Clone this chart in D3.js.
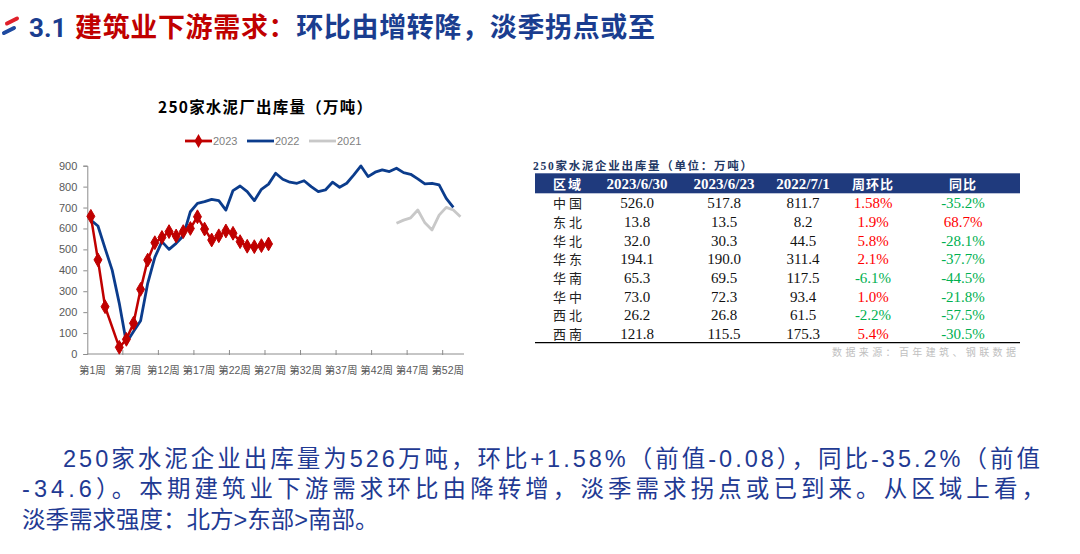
<!DOCTYPE html>
<html><head><meta charset="utf-8">
<script src="https://cdn.jsdelivr.net/npm/d3@7"></script>
<style>
html,body{margin:0;padding:0;background:#fff;}
svg{display:block;}
</style></head>
<body>
<svg id="c" width="1080" height="554"></svg>
<script>
// ---------- data ----------
const weeks = ["第1周","第3周","第4周","第5周","第6周","第7周","第8周","第9周","第10周","第11周",
  "第12周","第13周","第14周","第15周","第16周","第17周","第18周","第19周","第20周","第21周",
  "第22周","第23周","第24周","第25周","第26周","第27周","第28周","第29周","第30周","第31周",
  "第32周","第33周","第34周","第35周","第36周","第37周","第38周","第39周","第40周","第41周",
  "第42周","第43周","第44周","第45周","第46周","第47周","第48周","第49周","第50周","第51周",
  "第52周","第53周","第54周"];
const tickLabels = ["第1周","第7周","第12周","第17周","第22周","第27周","第32周","第37周","第42周","第47周","第52周"];
const s2023 = [658,450,226,null,32,70,147,309,449,532,557,585,564,585,600,656,597,545,565,588,577,537,515,513,518,526];
const s2022 = [640,612,505,401,242,54,107,159,338,462,537,500,529,564,680,720,728,739,733,688,781,803,776,733,787,812,864,835,821,816,828,800,776,784,821,797,816,856,899,848,869,880,872,888,867,859,837,813,816,808,744,701];
const s2021 = [null,null,null,null,null,null,null,null,null,null,null,null,null,null,null,null,null,null,null,null,null,null,null,null,null,null,null,null,null,null,null,null,null,null,null,null,null,null,null,null,null,null,null,625,640,651,688,627,593,664,701,688,656];
const yTicks = [0,100,200,300,400,500,600,700,800,900];
const seriesNames = ["2023","2022","2021"];

const regions = ["中国","东北","华北","华东","华南","华中","西北","西南"];
const colHeaders = ["区域","2023/6/30","2023/6/23","2022/7/1","周环比","同比"];
const v0630 = ["526.0","13.8","32.0","194.1","65.3","73.0","26.2","121.8"];
const v0623 = ["517.8","13.5","30.3","190.0","69.5","72.3","26.8","115.5"];
const v2022 = ["811.7","8.2","44.5","311.4","117.5","93.4","61.5","175.3"];
const wow = ["1.58%","1.9%","5.8%","2.1%","-6.1%","1.0%","-2.2%","5.4%"];
const yoy = ["-35.2%","68.7%","-28.1%","-37.7%","-44.5%","-21.8%","-57.5%","-30.5%"];

const paragraph = [
  "250家水泥企业出库量为526万吨，环比+1.58%（前值-0.08），同比-35.2%（前值",
  "-34.6）。本期建筑业下游需求环比由降转增，淡季需求拐点或已到来。从区域上看，",
  "淡季需求强度：北方>东部>南部。"
];

// ---------- colours / fonts ----------
const RED = "#C00000", BLUE = "#0B3C8C", GRAY = "#C8C8C8", NAVY = "#1F3A93";
const CJK = "'Noto Sans CJK SC','Noto Sans',sans-serif";
const SANS = "'Liberation Sans',Arial,'Noto Sans CJK SC',sans-serif";
const SERIF = "'Liberation Serif','Times New Roman','Noto Sans CJK SC',serif";

const svg = d3.select("#c").style("font-family", CJK);

// ---------- header ----------
svg.append("line").attr("x1",7).attr("y1",23.5).attr("x2",17).attr("y2",18.5)
  .attr("stroke","#E0202A").attr("stroke-width",4).attr("stroke-linecap","round");
svg.append("line").attr("x1",4).attr("y1",33).attr("x2",14).attr("y2",28)
  .attr("stroke","#1E4AA0").attr("stroke-width",4).attr("stroke-linecap","round");
svg.append("text").attr("x",29).attr("y",37).attr("font-size",26).attr("font-weight",700)
  .attr("fill","#1A3D8F").style("font-family","Roboto,'Noto Sans',sans-serif").text("3.1");
const ht = svg.append("text").attr("x",75).attr("y",37).attr("font-size",27).attr("font-weight",700)
  .attr("textLength",580).attr("lengthAdjust","spacing");
ht.append("tspan").attr("fill","#C00000").text("建筑业下游需求：");
ht.append("tspan").attr("fill","#1A3D8F").text("环比由增转降，淡季拐点或至");

// ---------- chart ----------
svg.append("text").attr("x",265).attr("y",113).attr("text-anchor","middle")
  .attr("font-size",15.5).attr("font-weight",700).attr("fill","#000")
  .attr("textLength",214).attr("lengthAdjust","spacing")
  .text("250家水泥厂出库量（万吨）");

const x = d3.scaleBand().domain(weeks).range([87.3,464]).paddingInner(0).paddingOuter(0);
const y = d3.scaleLinear().domain([0,900]).range([354,165.7]);
const cx = i => x(weeks[i]) + x.bandwidth()/2;

// y axis
const ya = svg.append("g").attr("transform","translate(87.3,0)")
  .call(d3.axisLeft(y).tickValues(yTicks).tickSize(4).tickPadding(6));
ya.select(".domain").attr("stroke","#8C8C8C");
ya.selectAll(".tick line").attr("stroke","#8C8C8C");
ya.selectAll(".tick text").attr("fill","#595959").attr("font-size",11)
  .style("font-family",SANS);

// x axis
const xa = svg.append("g");
xa.append("line").attr("x1",x.range()[0]).attr("x2",x.range()[1]).attr("y1",354).attr("y2",354)
  .attr("stroke","#8C8C8C");
const tickIdx = tickLabels.map(t => weeks.indexOf(t));
tickIdx.forEach((idx,k) => {
  if (k > 0) xa.append("line").attr("x1",x(weeks[idx])).attr("x2",x(weeks[idx]))
    .attr("y1",350).attr("y2",355).attr("stroke","#8C8C8C");
});
xa.selectAll("text.xl").data(tickLabels).join("text").attr("class","xl")
  .attr("x",(d)=>cx(weeks.indexOf(d))+1.5).attr("y",374).attr("text-anchor","middle")
  .attr("font-size",10.5).attr("fill","#595959").style("font-family",SANS).text(d=>d);

// lines
function drawLine(vals, color, w){
  const pts = vals.map((v,i)=>({i,v})).filter(d=>d.v!==null);
  svg.append("path").datum(pts)
    .attr("d", d3.line().x(d=>cx(d.i)).y(d=>y(d.v)))
    .attr("fill","none").attr("stroke",color).attr("stroke-width",w)
    .attr("stroke-linejoin","round");
  return pts;
}
drawLine(s2021, GRAY, 2.8);
drawLine(s2022, BLUE, 2.8);
const p23 = drawLine(s2023, RED, 2.5);
const diamond = d3.symbol().type(d3.symbolDiamond).size(55);
svg.selectAll("path.mk").data(p23).join("path").attr("class","mk")
  .attr("transform",d=>`translate(${cx(d.i)},${y(d.v)})`)
  .attr("d",diamond).attr("fill",RED).attr("stroke",RED).attr("stroke-width",1);

// legend
const legItems = [{n:seriesNames[0],c:RED,x:185,m:true},{n:seriesNames[1],c:BLUE,x:247},{n:seriesNames[2],c:GRAY,x:309}];
legItems.forEach(l=>{
  svg.append("line").attr("x1",l.x).attr("x2",l.x+27).attr("y1",141).attr("y2",141)
    .attr("stroke",l.c).attr("stroke-width",2.8);
  if(l.m) svg.append("path").attr("transform",`translate(${l.x+13.5},141)`).attr("d",diamond).attr("fill",l.c);
  svg.append("text").attr("x",l.x+28).attr("y",145).attr("font-size",11).attr("fill","#7F7F7F")
    .style("font-family",SANS).text(l.n);
});

// ---------- table ----------
svg.append("text").attr("x",533).attr("y",170).attr("font-size",11.5).attr("font-weight",700)
  .attr("fill","#1F3864").attr("textLength",219).attr("lengthAdjust","spacing")
  .style("font-family",SERIF)
  .text("250家水泥企业出库量（单位：万吨）");
svg.append("rect").attr("x",535).attr("y",173.3).attr("width",485).attr("height",20).attr("fill","#1F3A7D");
const colX = [553,637,724,803,873,963];
colHeaders.forEach((h,k)=>{
  svg.append("text").attr("x",colX[k]).attr("y",188.5)
    .attr("text-anchor",k===0?"start":"middle").attr("font-size",k===0||k>3?13:15)
    .attr("font-weight",700).attr("fill","#fff")
    .attr("letter-spacing",k===0?2:(k>3?1:0))
    .style("font-family",SERIF).text(h);
});
const rowY = i => 203.3 + 18.65*i;
regions.forEach((r,i)=>{
  const yy = rowY(i)+5;
  svg.append("text").attr("x",553).attr("y",yy).attr("font-size",13).attr("letter-spacing",3)
    .attr("fill","#222").style("font-family",SERIF).text(r);
  [v0630[i],v0623[i],v2022[i]].forEach((v,k)=>{
    svg.append("text").attr("x",colX[k+1]).attr("y",yy).attr("text-anchor","middle")
      .attr("font-size",15).style("font-family",SERIF).attr("fill","#111").text(v);
  });
  [wow[i],yoy[i]].forEach((v,k)=>{
    svg.append("text").attr("x",colX[k+4]).attr("y",yy).attr("text-anchor","middle")
      .attr("font-size",15).style("font-family",SERIF)
      .attr("fill",v.startsWith("-")?"#00B050":"#FF0000").text(v);
  });
});
svg.append("line").attr("x1",535).attr("x2",1020).attr("y1",342.7).attr("y2",342.7)
  .attr("stroke","#000").attr("stroke-width",1.3);
svg.append("text").attr("x",1016).attr("y",356).attr("text-anchor","end").attr("font-size",10)
  .attr("fill","#C0C0C0").attr("textLength",184).attr("lengthAdjust","spacing")
  .style("font-family",SERIF)
  .text("数据来源：百年建筑、钢联数据");

// ---------- paragraph ----------
const paraX = [63,22,22], paraW = [977,1023,null], paraY = [467,497,528];
paragraph.forEach((p,i)=>{
  const t = svg.append("text").attr("x",paraX[i]).attr("y",paraY[i]).attr("font-size",23.5)
    .attr("fill",NAVY).style("font-family",SANS).text(p);
  if(paraW[i]) t.attr("textLength",paraW[i]).attr("lengthAdjust","spacing");
});
</script>
</body></html>
